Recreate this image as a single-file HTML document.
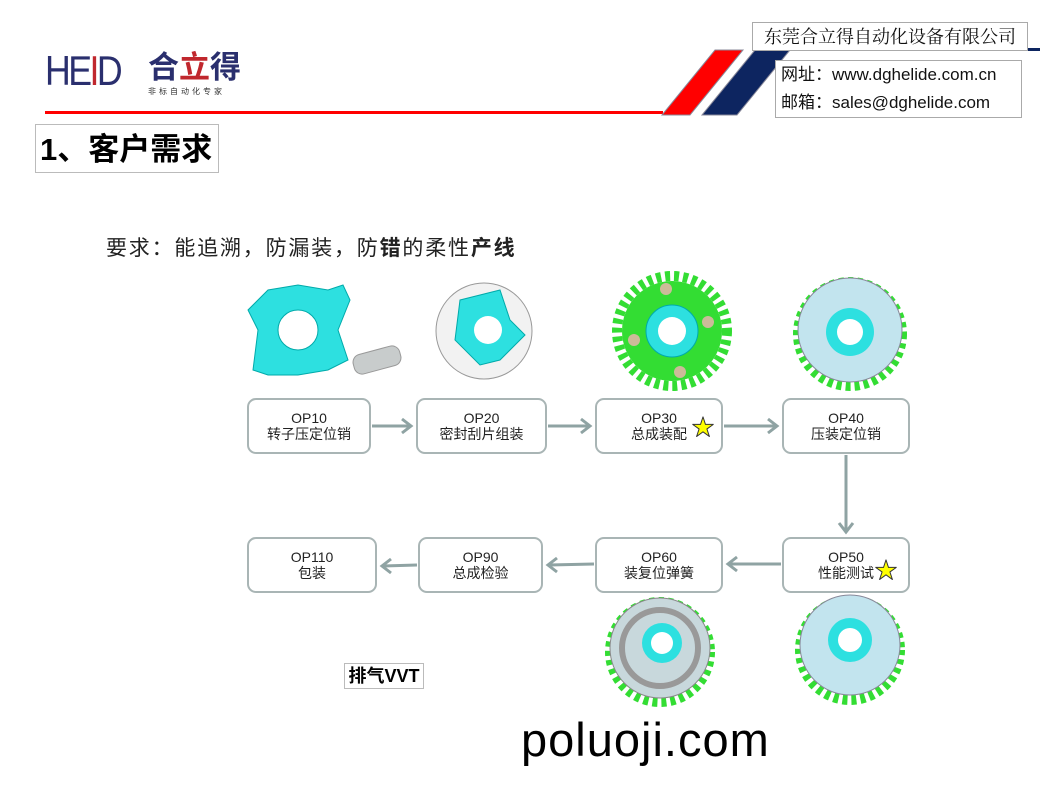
<!DOCTYPE html>
<html><head><meta charset="utf-8"><style>
body{margin:0;width:1040px;height:787px;background:#fff;position:relative;overflow:hidden;font-family:"Liberation Sans","Noto Sans CJK SC",sans-serif}
.a{position:absolute}
.box{position:absolute;border:2px solid #a9b5b5;border-radius:9px;background:#fff;text-align:center;font-size:14px;color:#222;box-sizing:border-box;padding-top:10px;line-height:16px}
.star{position:absolute;color:#ff0;-webkit-text-stroke:1px #333;font-size:22px}
</style></head><body>
<div class="a" style="left:45px;top:48px;font-size:42px;color:#2a2f6e;letter-spacing:-3px;line-height:46px;transform:scaleX(0.85);transform-origin:left">HE<span style="color:#c0272d">I</span>D</div>
<div class="a" style="left:148px;top:50px;font-size:31px;font-weight:bold;color:#2a2f6e;line-height:36px">合<span style="color:#c0272d">立</span>得</div>
<div class="a" style="left:148px;top:86px;font-size:8px;color:#333;letter-spacing:3px">非标自动化专家</div>
<div class="a" style="left:45px;top:111px;width:618px;height:3px;background:#f00"></div>
<svg class="a" style="left:655px;top:48px" width="385" height="70">
<polygon points="60,2 88,2 35,67 7,67" fill="#f00" stroke="#889" stroke-width="1"/>
<polygon points="100,2 135,2 82,67 47,67" fill="#0d2560" stroke="#889" stroke-width="1"/>
<rect x="130" y="0" width="255" height="3" fill="#0d2560"/>
</svg>
<div class="a" style="left:752px;top:22px;width:274px;height:27px;border:1px solid #aaa;background:#fff;font-family:'Noto Serif CJK SC',serif;font-size:18px;line-height:27px;text-align:center;color:#111">东莞合立得自动化设备有限公司</div>
<div class="a" style="left:775px;top:60px;width:247px;height:58px;border:1px solid #aaa;background:#fff;font-size:17px;line-height:28px;color:#111;padding-left:5px;box-sizing:border-box">网址：www.dghelide.com.cn<br>邮箱：sales@dghelide.com</div>
<div class="a" style="left:35px;top:124px;width:184px;height:49px;border:1px solid #bbb;box-sizing:border-box;font-size:31px;font-weight:bold;line-height:49px;padding-left:4px;color:#000">1、客户需求</div>
<div class="a" style="left:106px;top:232px;font-size:21px;letter-spacing:1.8px;color:#222">要求：能追溯，防漏装，防<b>错</b>的柔性<b>产线</b></div>
<svg class="a" style="left:0;top:0" width="1040" height="787">
<g transform="translate(298,330)"><path d="M-50,-20 L-30,-40 L0,-45 L30,-40 L45,-45 L52,-30 L40,0 L50,30 L30,40 L0,45 L-30,45 L-45,40 L-40,0 Z" fill="#2de0e0" stroke="#0aa" /><circle r="20" fill="#fff" stroke="#0aa"/></g>
<rect x="353" y="350" width="48" height="20" rx="8" fill="#c8cccc" stroke="#999" transform="rotate(-15 377 360)"/>
<circle cx="484" cy="331" r="48" fill="#f2f2f2" stroke="#999"/><path d="M460,300 L500,290 L510,320 L525,335 L500,360 L480,365 L455,340 Z" fill="#2de0e0" stroke="#0aa"/><circle cx="488" cy="330" r="14" fill="#fff"/>
<circle cx="672" cy="331" r="50" fill="#3d3" /><circle cx="672" cy="331" r="55" fill="none" stroke="#3d3" stroke-width="10" stroke-dasharray="5 4"/><circle cx="672" cy="331" r="26" fill="#2de0e0" stroke="#0aa"/><circle cx="672" cy="331" r="14" fill="#fff"/>
<circle cx="666" cy="289" r="6" fill="#cb9"/><circle cx="708" cy="322" r="6" fill="#cb9"/><circle cx="634" cy="340" r="6" fill="#cb9"/><circle cx="680" cy="372" r="6" fill="#cb9"/>
<circle cx="850" cy="334" r="52" fill="none" stroke="#3d3" stroke-width="10" stroke-dasharray="5 4"/><circle cx="850" cy="330" r="52" fill="#c2e4ee" stroke="#889"/><circle cx="850" cy="332" r="24" fill="#2de0e0"/><circle cx="850" cy="332" r="13" fill="#fff"/>
<circle cx="660" cy="652" r="50" fill="none" stroke="#3d3" stroke-width="10" stroke-dasharray="5 4"/><circle cx="660" cy="648" r="50" fill="#c8d8dc" stroke="#888"/><circle cx="660" cy="648" r="38" fill="none" stroke="#999" stroke-width="6"/><circle cx="662" cy="643" r="20" fill="#2de0e0"/><circle cx="662" cy="643" r="11" fill="#fff"/>
<circle cx="850" cy="650" r="50" fill="none" stroke="#3d3" stroke-width="10" stroke-dasharray="5 4"/><circle cx="850" cy="645" r="50" fill="#c2e4ee" stroke="#889"/><circle cx="850" cy="640" r="22" fill="#2de0e0"/><circle cx="850" cy="640" r="12" fill="#fff"/>
<g stroke="#8fa3a3" stroke-width="3" fill="none">
<line x1="372" y1="426" x2="410" y2="426"/><polyline points="402,419 411,426 402,433"/>
<line x1="548" y1="426" x2="589" y2="426"/><polyline points="581,419 590,426 581,433"/>
<line x1="724" y1="426" x2="776" y2="426"/><polyline points="768,419 777,426 768,433"/>
<line x1="846" y1="455" x2="846" y2="531"/><polyline points="839,523 846,532 853,523"/>
<line x1="781" y1="564" x2="729" y2="564"/><polyline points="737,557 728,564 737,571"/>
<line x1="594" y1="564" x2="549" y2="565"/><polyline points="557,558 548,565 557,572"/>
<line x1="417" y1="565" x2="383" y2="566"/><polyline points="391,559 382,566 391,573"/>
</g></svg>
<div class="box" style="left:247px;top:398px;width:124px;height:56px">OP10<br>转子压定位销</div>
<div class="box" style="left:416px;top:398px;width:131px;height:56px">OP20<br>密封刮片组装</div>
<div class="box" style="left:595px;top:398px;width:128px;height:56px">OP30<br>总成装配</div>
<div class="star" style="left:692px;top:410px">★</div>
<div class="box" style="left:782px;top:398px;width:128px;height:56px">OP40<br>压装定位销</div>
<div class="box" style="left:247px;top:537px;width:130px;height:56px">OP110<br>包装</div>
<div class="box" style="left:418px;top:537px;width:125px;height:56px">OP90<br>总成检验</div>
<div class="box" style="left:595px;top:537px;width:128px;height:56px">OP60<br>装复位弹簧</div>
<div class="box" style="left:782px;top:537px;width:128px;height:56px">OP50<br>性能测试</div>
<div class="star" style="left:875px;top:553px">★</div>
<div class="a" style="left:344px;top:663px;width:80px;height:26px;border:1px solid #bbb;box-sizing:border-box;font-size:18px;font-weight:bold;line-height:24px;text-align:center">排气VVT</div>
<div class="a" style="left:521px;top:712px;font-size:47px;letter-spacing:1px;color:#000">poluoji.com</div>
</body></html>
